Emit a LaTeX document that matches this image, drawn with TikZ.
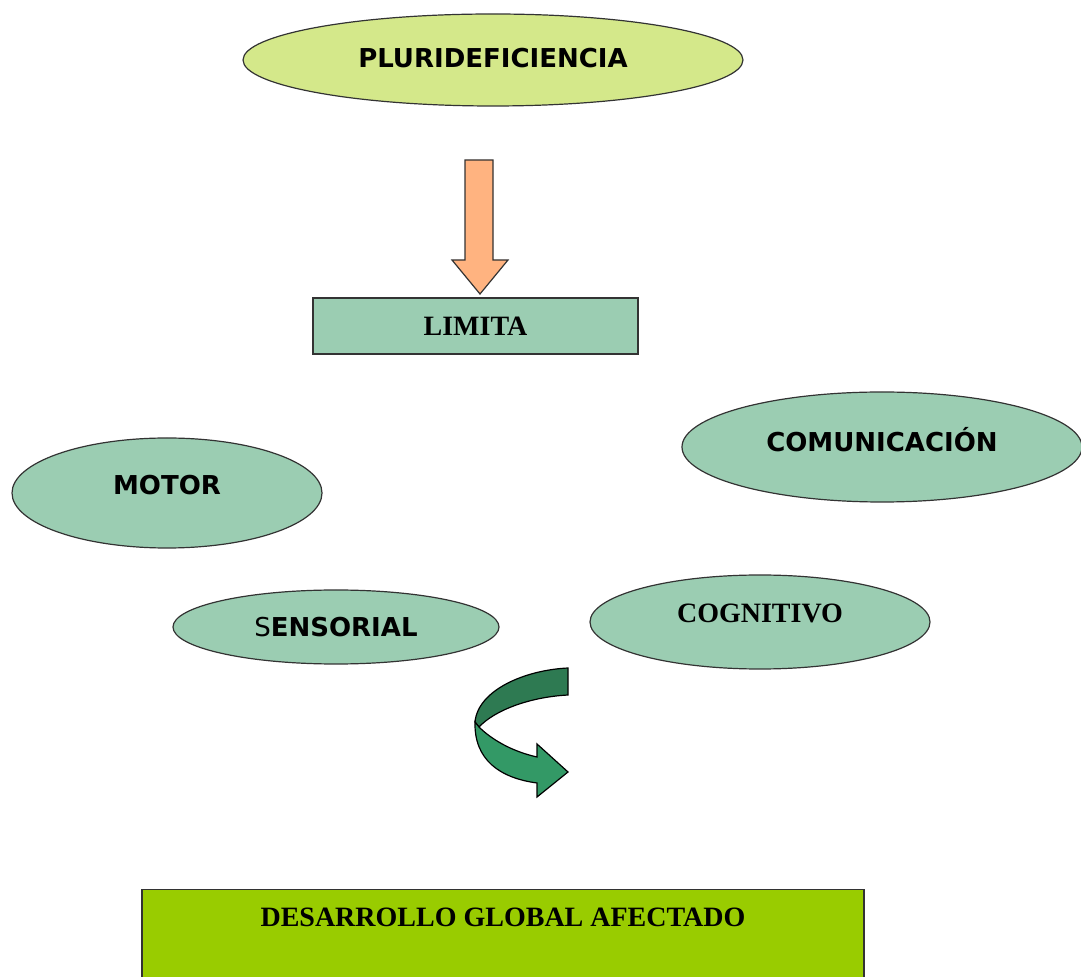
\documentclass[tikz,border=0pt]{standalone}
\usepackage{fontspec}
\setmainfont{Liberation Serif}
\newfontfamily\comicfont{DejaVu Sans}
\usetikzlibrary{shapes.geometric}
\definecolor{pluriFill}{RGB}{212,232,138}
\definecolor{tealFill}{RGB}{155,205,178}
\definecolor{arrowOrange}{RGB}{255,179,128}
\definecolor{darkGreen}{RGB}{46,122,82}
\definecolor{midGreen}{RGB}{51,153,102}
\definecolor{limeFill}{RGB}{153,204,0}
\begin{document}
\begin{tikzpicture}[x=0.5pt,y=-0.5pt,line width=0.6pt,
    blob/.style={ellipse,draw=black!80,fill=tealFill,inner sep=0pt},
    comic/.style={font=\comicfont\bfseries\fontsize{13}{16}\selectfont},
    serif/.style={font=\bfseries\fontsize{14}{16}\selectfont}]
      \clip (0,0) rectangle (1081,977);
      \node [blob,fill=pluriFill,minimum width=250pt,minimum height=46pt,
        label={[comic,anchor=center,yshift=1pt]center:PLURIDEFICIENCIA}] (pluri) at (493,60) {};
      \draw [black!80,fill=arrowOrange] (465,160) -- (493,160) -- (493,260) -- (508,260)
        -- (480,294) -- (452,260) -- (465,260) -- cycle;
      \node [draw=black!80,fill=tealFill,minimum width=162.5pt,minimum height=28pt,
        serif] (limita) at (475.5,326) {LIMITA};
      \node [blob,minimum width=155pt,minimum height=55pt,
        label={[comic,anchor=center,yshift=4pt]center:MOTOR}] (motor) at (167,493) {};
      \node [blob,minimum width=200pt,minimum height=55pt,
        label={[comic,anchor=center,yshift=3.5pt]center:COMUNICACIÓN}] (comunicacion) at (882,447) {};
      \node [blob,minimum width=163pt,minimum height=37pt,
        label={[comic,anchor=center]center:{{\mdseries S}ENSORIAL}}] (sensorial) at (336,627) {};
      \node [blob,minimum width=170pt,minimum height=47pt,
        label={[serif,anchor=center,yshift=4.5pt]center:COGNITIVO}] (cognitivo) at (760,622) {};
      \draw [black,fill=darkGreen] (568,668) .. controls (525,670) and (478,690) .. (475,722)
        -- (479,727) .. controls (495,710) and (530,697) .. (568,695) -- cycle;
      \draw [black,fill=midGreen] (479,727) .. controls (490,738) and (510,751) .. (537,757)
        -- (537,744) -- (568,772) -- (537,797) -- (537,783)
        .. controls (500,778) and (474,760) .. (475,722) -- cycle;
      \node [draw=black!80,fill=limeFill,anchor=north,minimum width=361pt,minimum height=55.5pt,
        label={[serif,anchor=center,yshift=-14pt]north:DESARROLLO GLOBAL AFECTADO}] (desarrollo) at (503,889) {};
    \end{tikzpicture}
\end{document}
